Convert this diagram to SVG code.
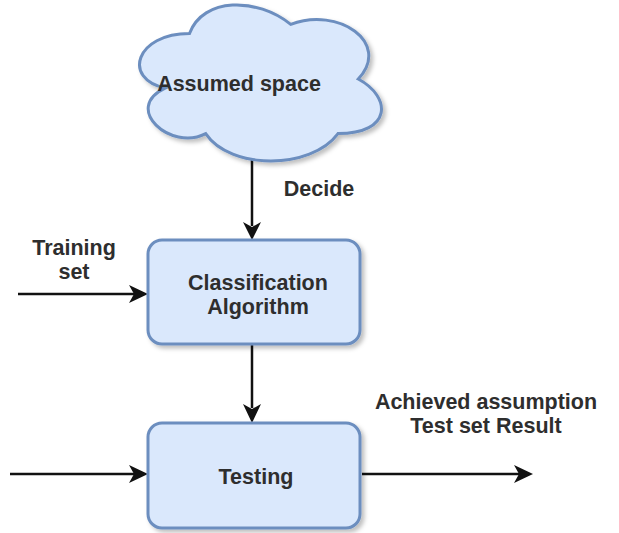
<svg xmlns="http://www.w3.org/2000/svg" width="619" height="533" viewBox="0 0 619 533">
<style>
.node{fill:#dae8fc;stroke:#6c8ebf;stroke-width:3;filter:url(#sh)}
.t{font-family:"Liberation Sans",Arial,sans-serif;font-size:21.5px;font-weight:bold;fill:#2e2e2e;text-anchor:middle}
.c{stroke:#111;stroke-width:2.5;fill:none}
.h{fill:#111}
</style>
<defs>
<filter id="sh" x="-10%" y="-10%" width="130%" height="130%">
<feDropShadow dx="3" dy="3" stdDeviation="2" flood-color="#000" flood-opacity="0.25"/>
</filter>
</defs>
<rect width="619" height="533" fill="#fff"/>
<g id="connectors">
<path class="c" d="M252,158 L252,226"/>
<path class="h" d="M243,222 L252,240 L261,222 L252,227 Z"/>
<path class="c" d="M18,294 L135,294"/>
<path class="h" d="M129,285 L148,294 L129,303 L134,294 Z"/>
<path class="c" d="M252,345 L252,408"/>
<path class="h" d="M243,404 L252,423 L261,404 L252,409 Z"/>
<path class="c" d="M10,474 L135,474"/>
<path class="h" d="M129,465 L148,474 L129,483 L134,474 Z"/>
<path class="c" d="M362,474 L520,474"/>
<path class="h" d="M514,465 L533,474 L514,483 L519,474 Z"/>
</g>
<g id="cloud">
<path class="node" transform="translate(122,-12)" d="M67.5,45.5 C13.5,45.5 0,91 43.2,100.1 C0,120.1 48.6,163.8 83.7,145.6 C108,182 189,182 216,145.6 C270,145.6 270,109.2 236.25,91 C270,54.6 216,18.2 168.75,36.4 C135,9.1 81,9.1 67.5,45.5 Z"/>
<text class="t" x="239" y="91">Assumed space</text>
</g>
<g id="decide"><text class="t" x="319" y="196">Decide</text></g>
<g id="training">
<text class="t" x="74" y="255">Training</text>
<text class="t" x="74" y="279">set</text>
</g>
<g id="classification">
<rect class="node" x="148" y="240" width="212" height="104" rx="14"/>
<text class="t" x="258" y="290">Classification</text>
<text class="t" x="258" y="314">Algorithm</text>
</g>
<g id="result">
<text class="t" x="486" y="409">Achieved assumption</text>
<text class="t" x="486" y="433">Test set Result</text>
</g>
<g id="testing">
<rect class="node" x="148" y="423" width="212" height="105" rx="14"/>
<text class="t" x="256" y="484">Testing</text>
</g>
</svg>
